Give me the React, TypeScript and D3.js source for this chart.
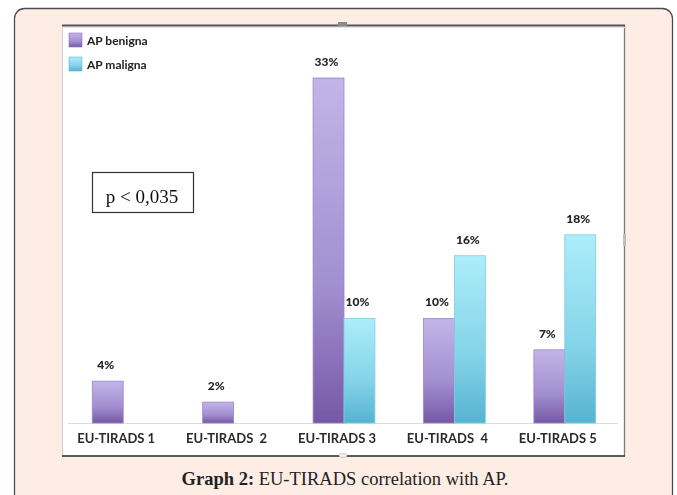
import React from "react";
import * as d3 from "d3";

const categories = ["EU-TIRADS 1", "EU-TIRADS  2", "EU-TIRADS 3", "EU-TIRADS  4", "EU-TIRADS 5"];
const seriesNames = ["AP benigna", "AP maligna"];
const benigna = [4, 2, 33, 10, 7];
const maligna = [null, null, 10, 16, 18];
const seriesValues = [benigna, maligna];

const W = 677;
const H = 495;

// plot geometry
const baseY = 423;
const topY = 78;
const left = 68;
const right = 620;

const sans = "Lato, 'Open Sans', 'Liberation Sans', sans-serif";
const serif = "'Liberation Serif', 'Times New Roman', serif";

export default function App() {
  const x0 = d3
    .scaleBand<string>()
    .domain(categories)
    .range([left, right])
    .paddingInner(0.44)
    .paddingOuter(0.22);
  const x1 = d3
    .scaleBand<string>()
    .domain(seriesNames)
    .range([0, x0.bandwidth()])
    .padding(0);
  const y = d3.scaleLinear().domain([0, 33]).range([baseY, topY]);

  const gradIds = ["gradBen", "gradMal"];

  return (
    <svg
      width={W}
      height={H}
      style={{ position: "absolute", left: 0, top: 0, display: "block" }}
    >
      <defs>
        <linearGradient id="gradBen" x1="0" y1="0" x2="0" y2="1">
          <stop offset="0%" stopColor="#c3b4e8" />
          <stop offset="60%" stopColor="#a28fd0" />
          <stop offset="100%" stopColor="#7658a6" />
        </linearGradient>
        <linearGradient id="gradMal" x1="0" y1="0" x2="0" y2="1">
          <stop offset="0%" stopColor="#acedfa" />
          <stop offset="60%" stopColor="#84d3e8" />
          <stop offset="100%" stopColor="#56b3d1" />
        </linearGradient>
        <filter id="soft" x="-10%" y="-10%" width="120%" height="120%">
          <feGaussianBlur stdDeviation="0.4" />
        </filter>
      </defs>

      <rect x={0} y={0} width={W} height={H} fill="#ffffff" />
      {/* panel */}
      <rect
        x={14.5}
        y={8.5}
        width={658}
        height={520}
        rx={10}
        fill="#fdede5"
        stroke="#4d4d4d"
        strokeWidth={1.3}
      />

      {/* chart image frame */}
      <rect x={62} y={25} width={563} height={431} fill="#ffffff" />
      <line x1={62.5} y1={25} x2={62.5} y2={456} stroke="#cfcfcf" strokeWidth={1} />
      <line x1={624.5} y1={25} x2={624.5} y2={456} stroke="#7a7a7a" strokeWidth={1.3} />
      <line x1={62} y1={25.5} x2={625} y2={25.5} stroke="#555" strokeWidth={2} />
      <line x1={62} y1={27.5} x2={625} y2={27.5} stroke="#e4e4e4" strokeWidth={1} />
      <line x1={62} y1={456} x2={625} y2={456} stroke="#5a5a5a" strokeWidth={2} />
      <rect x={338} y={22} width={9} height={4} fill="#8a8a8a" />
      <ellipse cx={343} cy={455.5} rx={4} ry={2} fill="#f4f4f4" stroke="#aaa" strokeWidth={0.6} />
      <rect x={623} y={234} width={3} height={12} fill="#bdbdbd" />

      <g filter="url(#soft)">
        {/* legend */}
        {seriesNames.map((s, i) => (
          <g key={s}>
            <rect
              x={69}
              y={33 + i * 24}
              width={13}
              height={14}
              fill={`url(#${gradIds[i]})`}
              stroke={i === 0 ? "#8b74bd" : "#5fb9d4"}
              strokeWidth={0.6}
            />
            <text
              x={87}
              y={45 + i * 24}
              fontFamily={sans}
              fontSize={12}
              fontWeight={700}
              fill="#222"
            >
              {s}
            </text>
          </g>
        ))}

        {/* baseline */}
        <line x1={left} y1={baseY + 0.5} x2={618} y2={baseY + 0.5} stroke="#dcdcdc" strokeWidth={1} />

        {/* bars */}
        {categories.map((c, ci) => (
          <g key={c} transform={`translate(${x0(c)},0)`}>
            {seriesNames.map((s, si) => {
              const v = seriesValues[si][ci];
              if (v == null) return null;
              const bx = x1(s) as number;
              const bw = x1.bandwidth();
              const top = y(v);
              return (
                <g key={s}>
                  <rect
                    x={bx}
                    y={top}
                    width={bw}
                    height={baseY - top}
                    fill={`url(#${gradIds[si]})`}
                    stroke={si === 0 ? "#9a86c9" : "#7fcde3"}
                    strokeWidth={0.8}
                  />
                  <text
                    x={bx + bw / 2 - 2}
                    y={top - 12}
                    textAnchor="middle"
                    fontFamily={sans}
                    fontSize={12}
                    fontWeight={900}
                    fill="#222"
                  >
                    {`${v}%`}
                  </text>
                </g>
              );
            })}
          </g>
        ))}

        {/* category labels */}
        {categories.map((c) => (
          <text
            key={c}
            x={(x0(c) as number) + x0.bandwidth() / 2 - 7}
            y={443}
            textAnchor="middle"
            fontFamily={sans}
            fontSize={13}
            fontWeight={700}
            fill="#2a2a2a"
            style={{ whiteSpace: "pre" }}
          >
            {c}
          </text>
        ))}

        {/* significance box */}
        <rect x={92.5} y={172.5} width={101} height={40} fill="#fff" stroke="#333" strokeWidth={1.2} />
        <text x={142} y={203} textAnchor="middle" fontFamily={serif} fontSize={19} fill="#111">
          p &lt; 0,035
        </text>
      </g>

      {/* caption */}
      <text x={345} y={485} textAnchor="middle" fontFamily={serif} fontSize={18.5} fill="#222">
        <tspan fontWeight={700}>Graph 2:</tspan>
        <tspan> EU-TIRADS correlation with AP.</tspan>
      </text>
    </svg>
  );
}
